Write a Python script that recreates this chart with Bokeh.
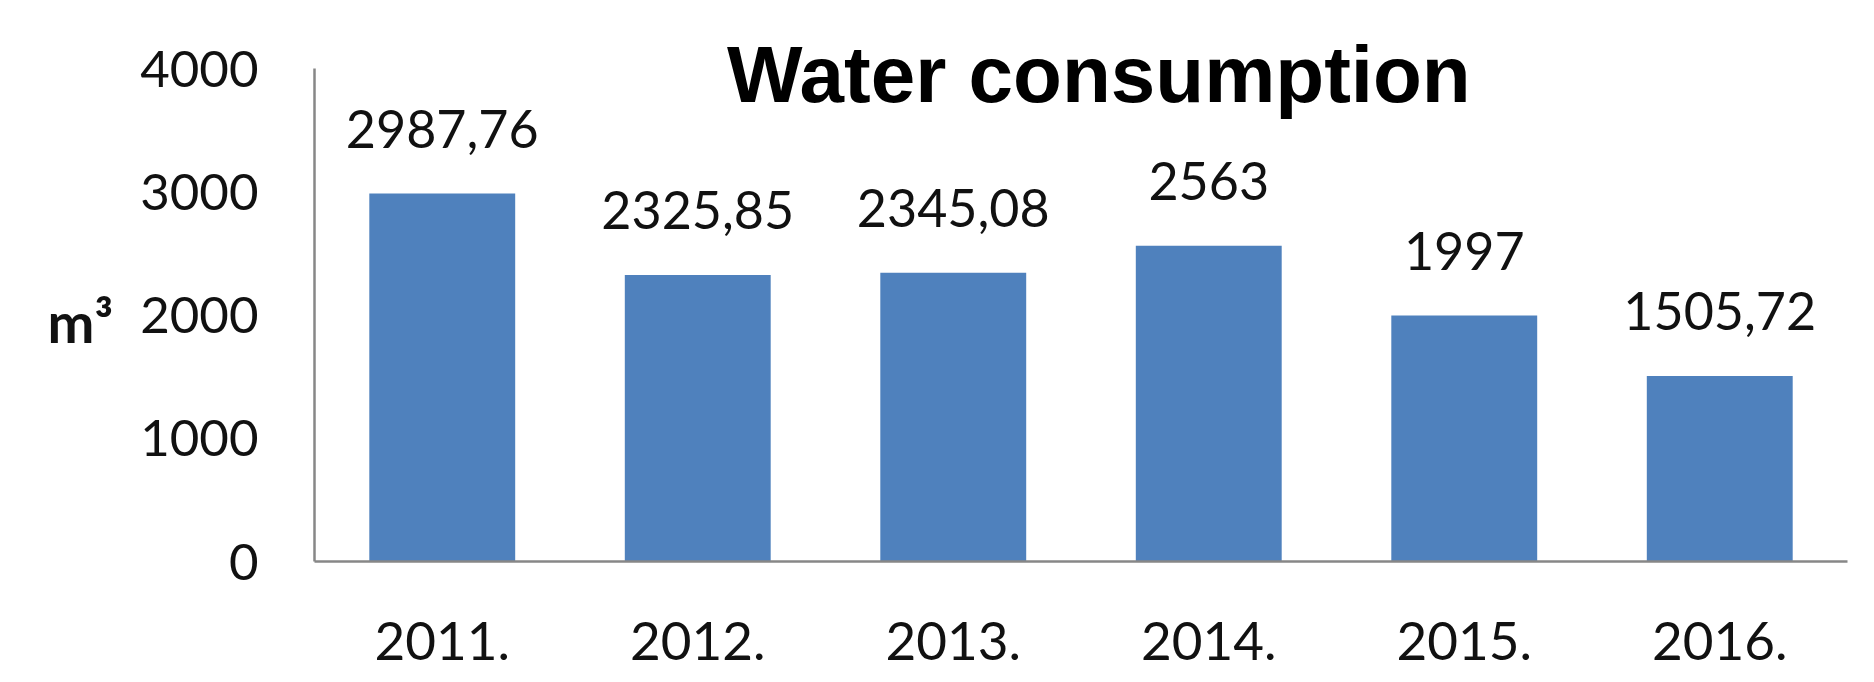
from bokeh.plotting import figure
from bokeh.models import ColumnDataSource, LabelSet, Label, FixedTicker
from bokeh.core.properties import value
from bokeh.embed import file_html
from bokeh.resources import INLINE

years = ["2011.", "2012.", "2013.", "2014.", "2015.", "2016."]
consumption = [2987.76, 2325.85, 2345.08, 2563, 1997, 1505.72]
value_labels = ["2987,76", "2325,85", "2345,08", "2563", "1997", "1505,72"]
y_ticks = [0, 1000, 2000, 3000, 4000]
title_text = "Water consumption"
unit_text = "m³"

src = ColumnDataSource(dict(year=years, value=consumption, label=value_labels))

p = figure(x_range=years, y_range=(0, 4555), width=1874, height=682,
           output_backend="svg", toolbar_location=None,
           min_border_left=314, min_border_right=27,
           min_border_top=0, min_border_bottom=121)
p.outline_line_color = None
p.background_fill_color = "white"
p.border_fill_color = "white"
p.xgrid.grid_line_color = None
p.ygrid.grid_line_color = None

p.vbar(x="year", top="value", width=0.571, source=src,
       fill_color="#4F81BD", line_color=None)

for ax in (p.xaxis[0], p.yaxis[0]):
    ax.axis_line_color = "#878787"
    ax.axis_line_width = 2.5
    ax.major_tick_line_color = None
    ax.minor_tick_line_color = None
    ax.major_tick_out = 0
    ax.major_tick_in = 0
    ax.major_label_text_font = "Lato"
    ax.major_label_text_color = "#111111"

p.yaxis.bounds = (0, 4000)
p.yaxis.major_label_text_font_size = "51px"
p.xaxis.major_label_text_font_size = "53px"
p.yaxis.ticker = FixedTicker(ticks=y_ticks)
p.yaxis.major_label_standoff = 56
p.xaxis.major_label_standoff = 60

p.yaxis.axis_label = "\n" + unit_text
p.yaxis.axis_label_orientation = "horizontal"
p.yaxis.axis_label_standoff = 24
p.yaxis.axis_label_text_font = "Lato"
p.yaxis.axis_label_text_font_style = "bold"
p.yaxis.axis_label_text_font_size = "56px"
p.yaxis.axis_label_text_color = "#111111"

labels = LabelSet(x="year", y="value", text="label", source=src,
                  text_align="center", text_baseline="alphabetic",
                  y_offset=46, text_font=value("Lato"), text_font_size=value("52px"),
                  text_color=value("#111111"))
p.add_layout(labels)

title = Label(x=3.07, y=3954, text=title_text, text_align="center",
              text_baseline="alphabetic", text_font="Liberation Sans",
              text_font_style="bold", text_font_size="80px",
              text_color="black")
p.add_layout(title)

open("out.html", "w").write(file_html(p, INLINE))
